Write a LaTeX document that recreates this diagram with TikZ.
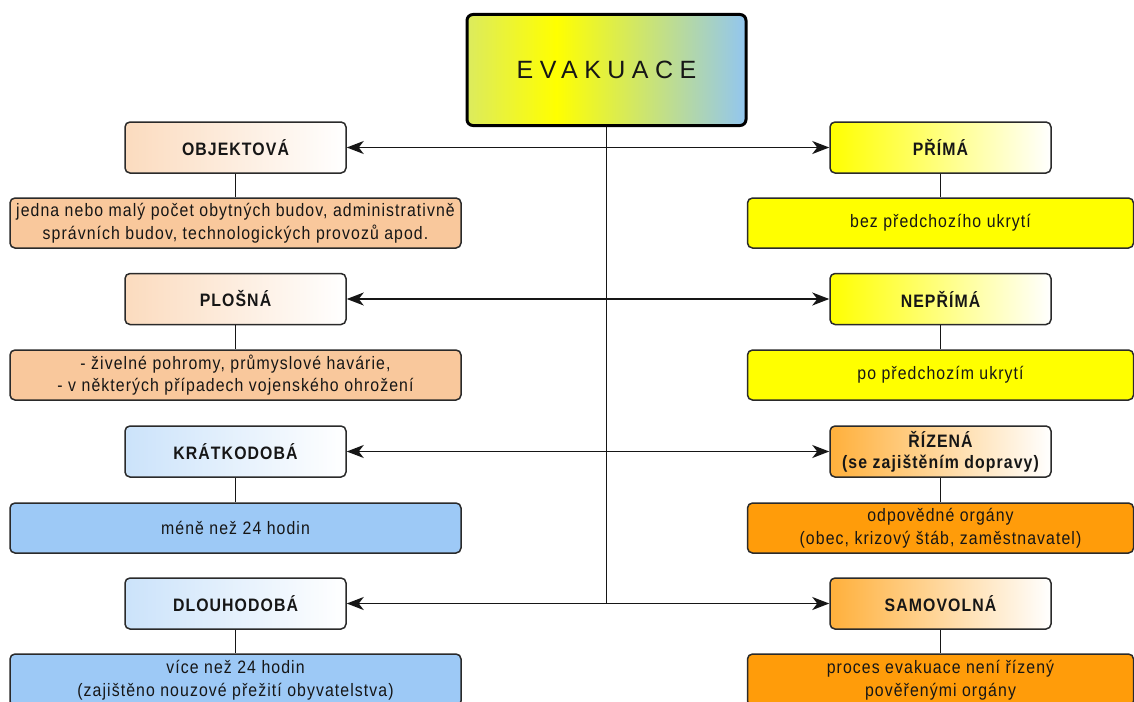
\documentclass[tikz,border=0pt]{standalone}
\usepackage{fontspec}
\setmainfont{Liberation Sans}
\newfontfamily\bodyfont[LetterSpace=6,FakeStretch=0.88]{Liberation Sans}
\newfontfamily\titlefont[LetterSpace=26]{Liberation Sans}
\usetikzlibrary{arrows.meta}

\definecolor{peach}{HTML}{F9C89C}
\definecolor{peachHead}{HTML}{F5B27A}
\definecolor{skyblue}{HTML}{9DC9F6}
\definecolor{skyHead}{HTML}{8CC0F4}
\definecolor{lemon}{HTML}{FFFF00}
\definecolor{amber}{HTML}{FF9C0A}
\definecolor{evLeft}{HTML}{DCEB5E}
\definecolor{evRight}{HTML}{92C6F0}
\definecolor{ink}{HTML}{161616}
\definecolor{rim}{HTML}{2A2A2A}

% horizontal blend of the title box: green-yellow, yellow, light blue
\pgfdeclarehorizontalshading{evshade}{100bp}{color(0bp)=(evLeft); color(25bp)=(evLeft); color(41bp)=(yellow); color(75bp)=(evRight); color(100bp)=(evRight)}

\tikzset{
  evbox/.style={draw=black, line width=3pt, rounded corners=6pt, shading=evshade,
    minimum width=279pt, minimum height=111pt, inner sep=0pt, text=ink,
    font=\titlefont\fontsize{25}{30}\selectfont},
  head/.style={draw=rim, line width=1.5pt, rounded corners=5pt,
    minimum width=221pt, minimum height=51pt, inner sep=1pt, align=center, text=ink,
    font=\bodyfont\bfseries\fontsize{18}{19}\selectfont},
  detail/.style={draw=rim, line width=1.5pt, rounded corners=5pt,
    minimum height=50pt, inner sep=1pt, align=center, text=ink,
    font=\bodyfont\fontsize{18}{22.5}\selectfont},
  ldet/.style={detail, minimum width=451pt},
  rdet/.style={detail, minimum width=386pt},
  peachH/.style={left color=peach!65!white, middle color=peachHead, right color=white},
  blueH/.style={left color=skyHead!45!white, middle color=skyHead, right color=white},
  yellowH/.style={left color=lemon, middle color=lemon!88!white, right color=white},
  orangeH/.style={left color=amber!80!white, middle color=amber, right color=white},
  link/.style={draw=ink, line width=1.4pt},
  tip/.tip={Stealth[length=17pt,width=13pt,inset=5pt]},
  twoway/.style={link, tip-tip}
}

\begin{document}
\begin{tikzpicture}[x=1pt, y=-1pt]
\clip (0,0) rectangle (1134,701);
\fill[white] (0,0) rectangle (1134,701);

% title
\node[evbox] (ev) at (606.5,70) {EVAKUACE};
\coordinate (trunk) at (606.5,603.5);

% left column
\node[head, peachH] (objH) at (235.5,147.5) {OBJEKTOVÁ};
\node[ldet, fill=peach] (objD) at (235.5,223) {jedna nebo malý počet obytných budov, administrativně\\ správních budov, technologických provozů apod.};
\node[head, peachH] (ploH) at (235.5,299) {PLOŠNÁ};
\node[ldet, fill=peach] (ploD) at (235.5,375) {- živelné pohromy, průmyslové havárie,\\ - v některých případech vojenského ohrožení};
\node[head, blueH] (kraH) at (235.5,451.5) {KRÁTKODOBÁ};
\node[ldet, fill=skyblue] (kraD) at (235.5,528) {méně než 24 hodin};
\node[head, blueH] (dloH) at (235.5,603.5) {DLOUHODOBÁ};
\node[ldet, fill=skyblue, minimum height=52pt] (dloD) at (235.5,680) {více než 24 hodin\\ (zajištěno nouzové přežití obyvatelstva)};

% right column
\node[head, yellowH] (priH) at (940.5,147.5) {PŘÍMÁ};
\node[rdet, fill=lemon] (priD) at (940.5,223) {bez předchozího ukrytí};
\node[head, yellowH] (nepH) at (940.5,299) {NEPŘÍMÁ};
\node[rdet, fill=lemon] (nepD) at (940.5,375) {po předchozím ukrytí};
\node[head, orangeH, font=\bodyfont\bfseries\fontsize{18}{21}\selectfont] (rizH) at (940.5,451.5) {ŘÍZENÁ\\(se zajištěním dopravy)};
\node[rdet, fill=amber] (rizD) at (940.5,528) {odpovědné orgány\\ (obec, krizový štáb, zaměstnavatel)};
\node[head, orangeH] (samH) at (940.5,603.5) {SAMOVOLNÁ};
\node[rdet, fill=amber, minimum height=52pt] (samD) at (940.5,680) {proces evakuace není řízený\\ pověřenými orgány};

% trunk and branches
\draw[link] (ev.south) -- (trunk);
\draw[twoway] (objH.east) -- (priH.west);
\draw[twoway] (ploH.east) -- (nepH.west);
\draw[twoway] (kraH.east) -- (rizH.west);
\draw[twoway] (dloH.east) -- (samH.west);

% headers to their descriptions
\foreach \h/\d in {objH/objD, ploH/ploD, kraH/kraD, dloH/dloD, priH/priD, nepH/nepD, rizH/rizD, samH/samD}
  \draw[link] (\h.south) -- (\d.north);
\end{tikzpicture}
\end{document}
